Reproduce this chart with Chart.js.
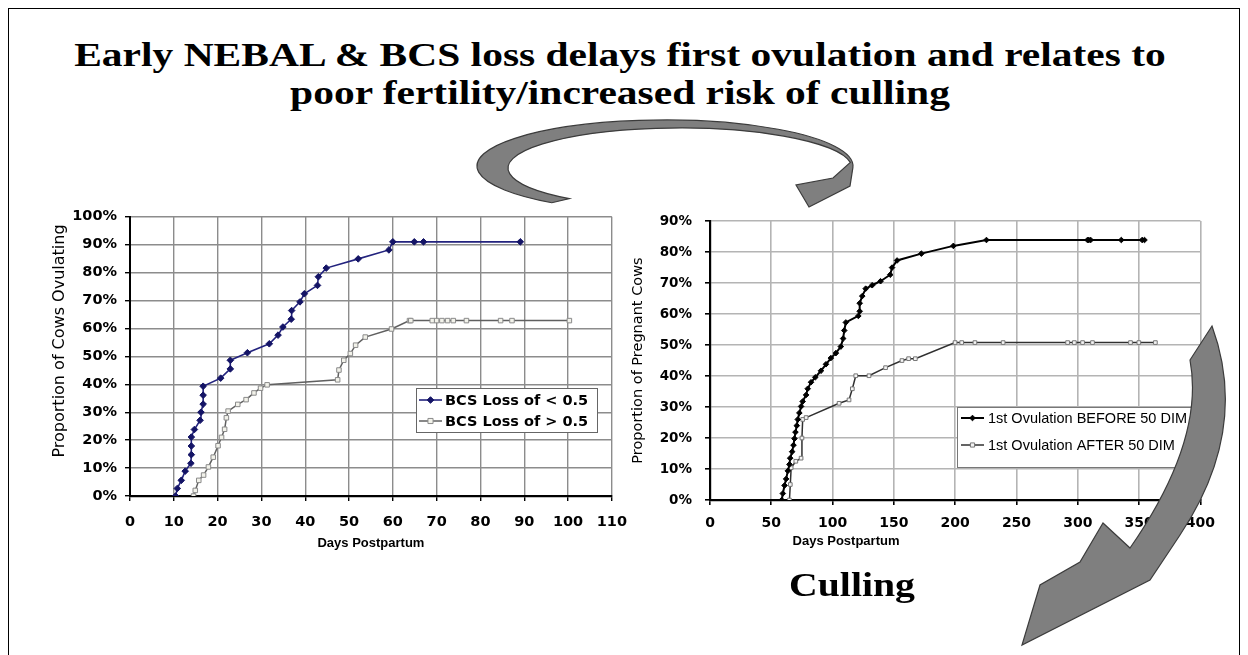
<!DOCTYPE html>
<html>
<head>
<meta charset="utf-8">
<script src="https://cdn.jsdelivr.net/npm/chart.js@4.4.0/dist/chart.umd.min.js"></script>
<style>
  html, body { margin:0; padding:0; background:#fff; }
  body { width:1248px; height:655px; overflow:hidden; position:relative; }
  #frame { position:absolute; left:8px; top:8px; width:1232px; height:700px; border:1px solid #000; box-sizing:border-box; }
  .title { position:absolute; left:0; width:1240px; text-align:center; font-family:"Liberation Serif","Times New Roman",serif; font-weight:bold; font-size:34px; color:#000; white-space:nowrap; transform:scaleX(1.22); transform-origin:620px 0; }
  #c1wrap { position:absolute; left:40px; top:200px; width:600px; height:355px; }
  #c2wrap { position:absolute; left:625px; top:200px; width:600px; height:355px; }
  #xt2 { position:absolute; left:846px; top:533px; transform:translateX(-50%); font-family:"Liberation Sans",Arial,sans-serif; font-weight:bold; font-size:13px; white-space:nowrap; }
  #culling { position:absolute; left:852px; top:566px; transform:translateX(-50%) scaleX(1.17); font-family:"Liberation Serif","Times New Roman",serif; font-weight:bold; font-size:34px; white-space:nowrap; }
  #arrows { position:absolute; left:0; top:0; pointer-events:none; }
</style>
</head>
<body>
<div id="frame"></div>
<div class="title" style="top:36px;">Early NEBAL &amp; BCS loss delays first ovulation and relates to</div>
<div class="title" style="top:74px;">poor fertility/increased risk of culling</div>
<div id="c1wrap"><canvas id="c1" width="600" height="355"></canvas></div>
<div id="c2wrap"><canvas id="c2" width="600" height="355"></canvas></div>
<div id="xt2">Days Postpartum</div>
<div id="culling">Culling</div>
<canvas id="arrows" width="1248" height="655"></canvas>
<script>
// ---------------- DATA ----------------
// Left chart: proportion of cows ovulating by days postpartum
const leftXTicks = [0,10,20,30,40,50,60,70,80,90,100,110];
const leftYTickLabels = ['0%','10%','20%','30%','40%','50%','60%','70%','80%','90%','100%'];
const leftSeriesNames = ['BCS Loss of < 0.5','BCS Loss of > 0.5'];
const lowLossDays = [10.4,10.8,11.7,12.6,13.9,14.0,14.0,14.0,14.7,16.0,16.2,16.7,16.7,16.7,20.7,22.9,22.9,26.8,31.8,33.8,34.9,36.8,36.9,38.8,39.8,42.8,43.0,44.8,52.1,59.1,60.0,64.9,67.0,89.1];
const lowLossPct  = [0,2.7,5.6,8.9,11.7,14.8,17.9,21.1,23.8,27.1,30.0,32.9,36.1,39.3,42.2,45.5,48.6,51.3,54.5,57.6,60.5,63.3,66.4,69.5,72.4,75.4,78.5,81.6,84.9,88.1,91.0,91.0,91.0,91.0];
const highLossDays = [14.5,14.9,15.7,16.8,17.9,19.0,20.1,20.9,21.6,22.0,22.4,24.6,26.5,28.3,29.8,31.3,47.4,47.7,48.8,50.3,51.5,53.7,59.7,63.8,64.1,69.0,70.0,71.2,72.5,73.8,76.8,84.6,87.2,100.3];
const highLossPct  = [0,2.0,5.6,7.5,10.4,13.9,18.0,21.0,23.9,28.0,30.4,32.8,34.5,36.9,38.6,39.8,41.6,45.1,48.6,51.0,54.0,56.9,59.8,62.8,62.8,62.8,62.8,62.8,62.8,62.8,62.8,62.8,62.8,62.8];

// Right chart: proportion of pregnant cows by days postpartum
const rightXTicks = [0,50,100,150,200,250,300,350,400];
const rightYTickLabels = ['0%','10%','20%','30%','40%','50%','60%','70%','80%','90%'];
const rightSeriesNames = ['1st Ovulation BEFORE 50 DIM','1st Ovulation AFTER 50 DIM'];
const beforeDays = [58.5,59.4,60.8,62.1,63.5,64.8,65.4,67.0,68.1,68.9,69.7,70.8,71.6,72.9,74.3,75.6,78.4,79.7,82.4,85.9,90.5,94.6,98.6,102.7,106.7,108.6,109.5,110.8,121.0,122.1,122.1,124.2,127.0,132.3,139.1,147.0,148.5,152.6,172.4,198.5,225.5,307.9,309.0,310.5,335.5,352.5,354.4];
const beforePct  = [0,2.1,4.7,6.8,9.4,11.5,13.5,15.6,17.7,19.8,21.9,24.0,26.0,28.1,30.2,31.8,33.9,35.9,38.0,39.6,41.7,43.8,45.8,47.4,49.5,52.1,54.7,57.3,59.4,60.9,63.5,65.8,68.2,69.3,70.6,72.7,75.0,77.3,79.5,82.0,83.9,83.9,83.9,83.9,83.9,83.9,83.9];
const afterDays = [64.8,65.5,66.2,70.0,74.3,75.0,75.6,78.4,105.3,113.4,116.1,118.9,129.7,143.2,156.6,162.0,167.5,199.9,205.3,216.1,239.1,291.7,297.2,303.9,312.0,343.0,349.8,363.3];
const afterPct  = [0,5.0,10.4,12.5,13.5,20.0,26.0,26.6,31.2,32.3,35.9,40.1,40.1,42.7,45.0,45.6,45.6,50.8,50.8,50.8,50.8,50.8,50.8,50.8,50.8,50.8,50.8,50.8];

// ---------------- HELPERS ----------------
const toPts = (xs, ys) => xs.map((x, i) => ({ x: x, y: ys[i] / 100 }));

function drawMarker(ctx, style, x, y, r, fill, stroke, lw) {
  ctx.save();
  ctx.fillStyle = fill; ctx.strokeStyle = stroke; ctx.lineWidth = lw;
  ctx.beginPath();
  if (style === 'rectRot') {
    ctx.moveTo(x, y - r); ctx.lineTo(x + r, y); ctx.lineTo(x, y + r); ctx.lineTo(x - r, y); ctx.closePath();
  } else if (style === 'rect') {
    ctx.rect(x - r * 0.8, y - r * 0.8, r * 1.6, r * 1.6);
  } else {
    ctx.arc(x, y, r, 0, Math.PI * 2);
  }
  ctx.fill(); ctx.stroke();
  ctx.restore();
}

const boxLegend = {
  id: 'boxLegend',
  afterDatasetsDraw(chart, args, o) {
    if (!o || !o.box) return;
    const ctx = chart.ctx;
    const b = o.box;
    ctx.save();
    ctx.fillStyle = '#fff';
    ctx.fillRect(b.x, b.y, b.w, b.h);
    ctx.strokeStyle = o.borderColor || '#666';
    ctx.lineWidth = 1;
    ctx.strokeRect(b.x + 0.5, b.y + 0.5, b.w, b.h);
    ctx.font = o.font;
    ctx.textBaseline = 'middle';
    ctx.textAlign = 'left';
    chart.data.datasets.forEach((ds, i) => {
      const cy = b.y + o.rows[i];
      ctx.strokeStyle = ds.borderColor;
      ctx.lineWidth = ds.borderWidth;
      ctx.beginPath();
      ctx.moveTo(b.x + o.line[0], cy); ctx.lineTo(b.x + o.line[1], cy); ctx.stroke();
      drawMarker(ctx, ds.pointStyle, b.x + (o.line[0] + o.line[1]) / 2, cy, ds.pointRadius,
                 ds.pointBackgroundColor, ds.pointBorderColor, ds.pointBorderWidth);
      ctx.fillStyle = '#000';
      ctx.fillText(ds.label, b.x + o.textX, cy + 1);
    });
    ctx.restore();
  }
};

// vertical axis title drawn at a given centre (the reference's title is not centred on the axis)
const sideTitle = {
  id: 'sideTitle',
  afterDraw(chart, args, o) {
    if (!o || !o.text) return;
    const ctx = chart.ctx;
    ctx.save();
    ctx.translate(o.x, o.y);
    ctx.rotate(-Math.PI / 2);
    ctx.font = o.font;
    ctx.fillStyle = '#000';
    ctx.textAlign = 'center';
    ctx.textBaseline = 'middle';
    ctx.fillText(o.text, 0, 0);
    ctx.restore();
  }
};

// ---------------- LEFT CHART ----------------
new Chart(document.getElementById('c1'), {
  type: 'line',
  plugins: [boxLegend, sideTitle],
  data: {
    datasets: [
      { label: leftSeriesNames[0], data: toPts(lowLossDays, lowLossPct),
        borderColor: '#23237e', borderWidth: 1.6, pointStyle: 'rectRot', pointRadius: 3.3,
        pointBackgroundColor: '#141466', pointBorderColor: '#141466', pointBorderWidth: 1, tension: 0 },
      { label: leftSeriesNames[1], data: toPts(highLossDays, highLossPct),
        borderColor: '#606060', borderWidth: 1.5, pointStyle: 'rect', pointRadius: 3.2,
        pointBackgroundColor: '#f2f2ea', pointBorderColor: '#8a8a8a', pointBorderWidth: 1, tension: 0 }
    ]
  },
  options: {
    responsive: false, animation: false, devicePixelRatio: 1,
    layout: { padding: { top: 13, right: 18, left: 0, bottom: 0 } },
    plugins: {
      legend: { display: false }, tooltip: { enabled: false },
      boxLegend: { box: { x: 376, y: 188, w: 181, h: 44 }, rows: [12, 33], line: [3, 26], textX: 29,
                   font: 'bold 14.5px "DejaVu Sans", sans-serif', borderColor: '#666' },
      sideTitle: { text: 'Proportion of Cows Ovulating', x: 20, y: 141, font: '16px "DejaVu Sans", sans-serif' }
    },
    scales: {
      x: {
        type: 'linear', min: leftXTicks[0], max: leftXTicks[leftXTicks.length - 1],
        afterBuildTicks: (s) => { s.ticks = leftXTicks.map(v => ({ value: v })); },
        afterFit: (s) => { s.height = 59; },
        grid: { color: '#8c8c8c', lineWidth: 1.4, tickLength: 5, tickColor: '#000', drawTicks: true },
        border: { color: '#000', width: 2.2 },
        ticks: { color: '#000', padding: 13, font: { family: 'DejaVu Sans', weight: 'bold', size: 14.5 }, maxRotation: 0 },
        title: { display: true, text: 'Days Postpartum', color: '#000',
                 font: { family: 'Liberation Sans', weight: 'bold', size: 13 }, padding: { top: 0, bottom: 4 } }
      },
      y: {
        min: 0, max: 1,
        afterBuildTicks: (s) => { s.ticks = leftYTickLabels.map((t, i) => ({ value: i / 10 })); },
        afterFit: (s) => { s.width = 90; },
        grid: { color: '#8c8c8c', lineWidth: 1.4, tickLength: 5, tickColor: '#000' },
        border: { color: '#000', width: 2 },
        ticks: { color: '#000', padding: 8, font: { family: 'DejaVu Sans', weight: 'bold', size: 14.5 },
                 callback: (v) => leftYTickLabels[Math.round(v * 10)] }
      }
    }
  }
});

// ---------------- RIGHT CHART ----------------
new Chart(document.getElementById('c2'), {
  type: 'line',
  plugins: [boxLegend],
  data: {
    datasets: [
      { label: rightSeriesNames[0], data: toPts(beforeDays, beforePct),
        borderColor: '#000', borderWidth: 2, pointStyle: 'rectRot', pointRadius: 2.8,
        pointBackgroundColor: '#000', pointBorderColor: '#000', pointBorderWidth: 1, tension: 0 },
      { label: rightSeriesNames[1], data: toPts(afterDays, afterPct),
        borderColor: '#303030', borderWidth: 1.5, pointStyle: 'rect', pointRadius: 2.6,
        pointBackgroundColor: '#f4f4f4', pointBorderColor: '#777', pointBorderWidth: 1, tension: 0 }
    ]
  },
  options: {
    responsive: false, animation: false, devicePixelRatio: 1,
    layout: { padding: { top: 12, right: 20, left: 0, bottom: 0 } },
    plugins: {
      legend: { display: false }, tooltip: { enabled: false },
      boxLegend: { box: { x: 332, y: 207, w: 236, h: 60 }, rows: [11, 38], line: [4, 27], textX: 31,
                   font: '14.5px "Liberation Sans", Arial, sans-serif', borderColor: '#777' }
    },
    scales: {
      x: {
        type: 'linear', min: rightXTicks[0], max: rightXTicks[rightXTicks.length - 1],
        afterBuildTicks: (s) => { s.ticks = rightXTicks.map(v => ({ value: v })); },
        afterFit: (s) => { s.height = 55; },
        grid: { color: '#b4b4b4', lineWidth: 1.6, tickLength: 5, tickColor: '#000' },
        border: { color: '#000', width: 2.2 },
        ticks: { color: '#000', padding: 10, font: { family: 'DejaVu Sans', weight: 'bold', size: 14 }, maxRotation: 0 }
      },
      y: {
        min: 0, max: 0.9,
        afterBuildTicks: (s) => { s.ticks = rightYTickLabels.map((t, i) => ({ value: i / 10 })); },
        afterFit: (s) => { s.width = 85; },
        grid: { color: '#b4b4b4', lineWidth: 1.6, tickLength: 5, tickColor: '#000' },
        border: { color: '#000', width: 2.2 },
        ticks: { color: '#000', padding: 13, font: { family: 'DejaVu Sans', weight: 'bold', size: 13.5 },
                 callback: (v) => rightYTickLabels[Math.round(v * 10)] },
        title: { display: true, text: 'Proportion of Pregnant Cows', color: '#000',
                 font: { family: 'DejaVu Sans', size: 14.5 }, padding: { top: 5, bottom: 0 } }
      }
    }
  }
});

// ---------------- DECORATIVE ARROWS ----------------
(function () {
  const ctx = document.getElementById('arrows').getContext('2d');
  ctx.fillStyle = '#7f7f7f';
  ctx.strokeStyle = '#3c3c3c';
  ctx.lineWidth = 1.2;
  const d = Math.PI / 180;
  // top curved arrow
  ctx.beginPath();
  ctx.ellipse(665, 166, 188, 46, 0, 127 * d, 2 * d + 2 * Math.PI, false);
  ctx.lineTo(850, 186);
  ctx.lineTo(809, 207);
  ctx.lineTo(796, 185);
  ctx.lineTo(833, 178);
  ctx.ellipse(680, 168, 172, 40, 0, 352 * d, 130 * d, true);
  ctx.closePath();
  ctx.fill(); ctx.stroke();
  // right big curved arrow
  ctx.beginPath();
  ctx.moveTo(1212, 326);
  ctx.quadraticCurveTo(1250, 430, 1180, 535);
  ctx.lineTo(1150, 580);
  ctx.lineTo(1022, 645);
  ctx.lineTo(1040, 585);
  ctx.lineTo(1080, 562);
  ctx.lineTo(1103, 523);
  ctx.lineTo(1130, 548);
  ctx.quadraticCurveTo(1205, 440, 1190, 360);
  ctx.closePath();
  ctx.fill(); ctx.stroke();
})();
</script>
</body>
</html>
